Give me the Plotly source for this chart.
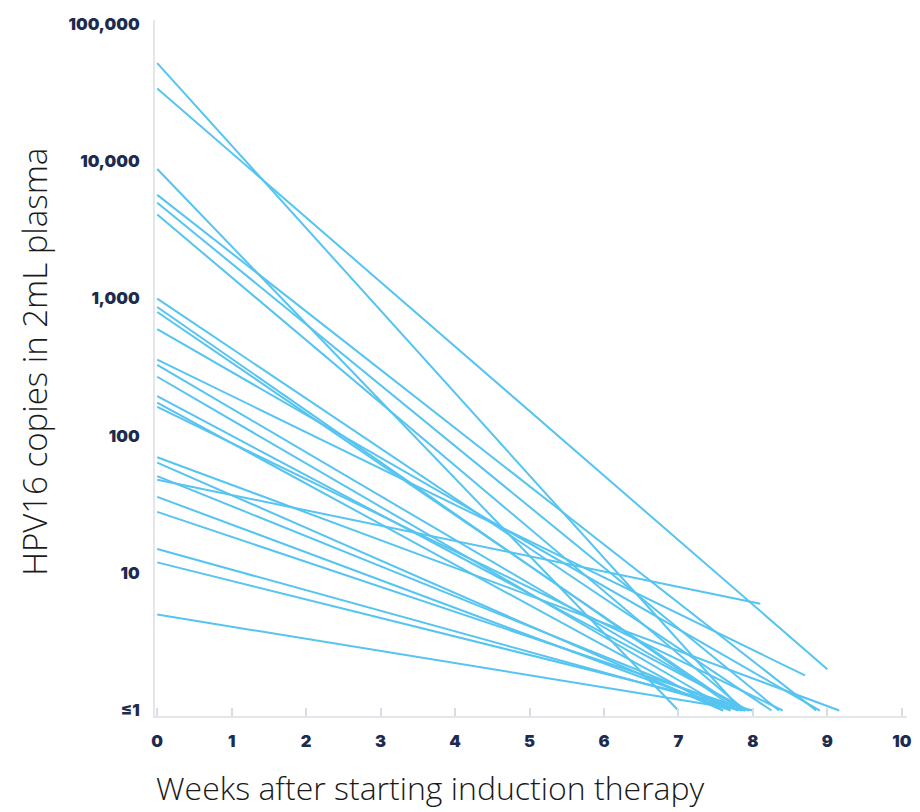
import plotly.graph_objects as go

# HPV16 ctDNA per patient: level at week 0 and level at the last measurement
start_copies = [52000, 34000, 8800, 5700, 5000, 4100, 1000, 870, 800, 600,
                360, 330, 270, 195, 175, 163, 70, 64, 51, 48, 36, 28, 15, 12, 5]
end_weeks = [7.85, 9.0, 7.0, 8.85, 8.35, 7.9, 8.25, 7.8, 7.85, 8.9,
             8.7, 7.9, 7.7, 7.95, 7.6, 8.4, 9.16, 7.6, 7.8, 8.1, 7.7, 7.95, 7.85, 8.0, 7.9]
end_copies = [1, 2, 1, 1, 1, 1, 1, 1, 1, 1,
              1.8, 1, 1, 1, 1, 1, 1, 1, 1, 6, 1, 1, 1, 1, 1]

y_tick_vals = [1, 10, 100, 1000, 10000, 100000]
y_tick_text = ["≤1", "10", "100", "1,000", "10,000", "100,000"]
x_tick_vals = list(range(0, 11))

LINE_COLOR = "#55c4f1"
TICK_FONT = dict(family="Inter", size=16.5, color="#1d2b4f", weight=900)
TITLE_COLOR = "#1a1a1a"

fig = go.Figure()
for s, w, e in zip(start_copies, end_weeks, end_copies):
    fig.add_trace(go.Scatter(
        x=[0, w], y=[s, e], mode="lines",
        line=dict(color=LINE_COLOR, width=2),
        showlegend=False, hoverinfo="skip",
    ))

fig.update_layout(
    width=920, height=812,
    margin=dict(l=155, r=8, t=20, b=96),
    paper_bgcolor="white", plot_bgcolor="white",
    xaxis=dict(
        range=[-0.03, 10.07], tickvals=x_tick_vals,
        showgrid=False, zeroline=False,
        showline=True, linecolor="#e3e7ec", linewidth=2,
        ticks="inside", ticklen=8, tickcolor="#d8dde3", tickwidth=1.5,
        tickfont=TICK_FONT, ticklabelstandoff=9,
    ),
    yaxis=dict(
        type="log", range=[-0.04, 5.03],
        tickvals=y_tick_vals, ticktext=y_tick_text,
        showgrid=False, zeroline=False,
        showline=True, linecolor="#e3e7ec", linewidth=2,
        ticks="", tickfont=TICK_FONT, ticklabelstandoff=10,
    ),
    annotations=[
        dict(text="Weeks after starting induction therapy", xref="paper", yref="paper",
             x=(432 - 155) / (912 - 155), y=-(787 - 716) / (716 - 20),
             xanchor="center", yanchor="middle", showarrow=False, borderpad=0,
             font=dict(family="Open Sans", size=32, color=TITLE_COLOR, weight=300)),
        dict(text="HPV16 copies in 2mL plasma", xref="paper", yref="paper",
             x=-(155 - 33) / (912 - 155), y=(716 - 362) / (716 - 20),
             xanchor="center", yanchor="middle", textangle=-90, showarrow=False,
             font=dict(family="Open Sans", size=33, color=TITLE_COLOR, weight=300)),
    ],
)

fig.write_html("out.html")
